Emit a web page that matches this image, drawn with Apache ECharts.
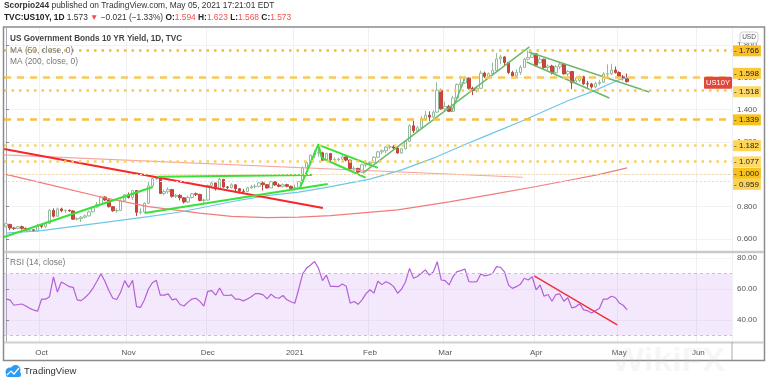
<!DOCTYPE html>
<html><head><meta charset="utf-8">
<script src="https://cdn.jsdelivr.net/npm/echarts@6/dist/echarts.min.js"></script>
<style>html,body{margin:0;padding:0;background:#fff}#c{width:768px;height:385px}</style>
</head><body><div id="c"></div><script>
// ---------- DATA ----------
const monthDays = {
 '2020-09': [18,21,22,23,24,25,28,29,30],
 '2020-10': [1,2,5,6,7,8,9,12,13,14,15,16,19,20,21,22,23,26,27,28,29,30],
 '2020-11': [2,3,4,5,6,9,10,11,12,13,16,17,18,19,20,23,24,25,27,30],
 '2020-12': [1,2,3,4,7,8,9,10,11,14,15,16,17,18,21,22,23,24,28,29,30,31],
 '2021-01': [4,5,6,7,8,11,12,13,14,15,19,20,21,22,25,26,27,28,29],
 '2021-02': [1,2,3,4,5,8,9,10,11,12,16,17,18,19,22,23,24,25,26],
 '2021-03': [1,2,3,4,5,8,9,10,11,12,15,16,17,18,19,22,23,24,25,26,29,30,31],
 '2021-04': [1,5,6,7,8,9,12,13,14,15,16,19,20,21,22,23,26,27,28,29,30],
 '2021-05': [3,4,5,6,7,10,11,12,13,14,17,18,19,20,21,24,25,26,27,28],
 '2021-06': [1,2,3,4,7,8,9,10,11]
};
const monthLabels = {'2020-10':'Oct','2020-11':'Nov','2020-12':'Dec','2021-01':'2021','2021-02':'Feb','2021-03':'Mar','2021-04':'Apr','2021-05':'May','2021-06':'Jun'};

// [open, close, low, high]
const ohlc = [
[0.680,0.694,0.672,0.700],[0.690,0.668,0.655,0.695],[0.668,0.666,0.656,0.675],[0.666,0.676,0.660,0.681],[0.676,0.666,0.658,0.683],
[0.665,0.655,0.650,0.672],[0.655,0.657,0.650,0.667],[0.657,0.648,0.644,0.662],[0.649,0.684,0.646,0.695],
[0.684,0.678,0.666,0.689],[0.678,0.696,0.668,0.706],[0.697,0.777,0.694,0.785],[0.777,0.741,0.733,0.790],[0.741,0.786,0.738,0.794],
[0.786,0.775,0.766,0.794],[0.775,0.778,0.762,0.783],[0.778,0.774,0.768,0.782],[0.774,0.723,0.718,0.778],[0.723,0.726,0.715,0.735],
[0.726,0.735,0.705,0.742],[0.735,0.743,0.728,0.752],[0.743,0.768,0.740,0.776],[0.768,0.798,0.765,0.801],[0.798,0.813,0.795,0.829],
[0.813,0.860,0.810,0.868],[0.860,0.842,0.835,0.865],[0.842,0.800,0.795,0.845],[0.800,0.775,0.768,0.803],[0.775,0.777,0.762,0.790],
[0.777,0.837,0.775,0.845],[0.837,0.874,0.832,0.878],
[0.874,0.857,0.850,0.888],[0.857,0.900,0.842,0.904],[0.900,0.765,0.743,0.900],[0.765,0.767,0.752,0.790],[0.767,0.821,0.760,0.827],
[0.821,0.929,0.818,0.960],[0.929,0.973,0.925,0.978],[0.973,0.976,0.965,0.979],[0.976,0.882,0.878,0.976],[0.882,0.893,0.870,0.906],
[0.893,0.906,0.880,0.920],[0.906,0.864,0.856,0.910],[0.864,0.870,0.855,0.880],[0.870,0.855,0.839,0.878],[0.855,0.829,0.820,0.858],
[0.829,0.857,0.822,0.869],[0.857,0.880,0.850,0.885],[0.880,0.876,0.866,0.888],[0.876,0.839,0.834,0.880],[0.839,0.841,0.824,0.850],
[0.841,0.931,0.838,0.936],[0.931,0.947,0.920,0.955],[0.947,0.911,0.900,0.948],[0.911,0.969,0.905,0.978],[0.969,0.922,0.915,0.972],
[0.922,0.918,0.910,0.928],[0.918,0.935,0.912,0.945],[0.935,0.911,0.893,0.938],[0.911,0.896,0.882,0.915],[0.896,0.894,0.880,0.910],
[0.894,0.917,0.889,0.923],[0.917,0.924,0.910,0.935],[0.924,0.926,0.912,0.939],[0.926,0.947,0.920,0.955],[0.947,0.936,0.900,0.956],
[0.936,0.916,0.912,0.940],[0.916,0.955,0.914,0.960],[0.955,0.934,0.930,0.957],[0.934,0.926,0.920,0.944],[0.926,0.936,0.918,0.944],
[0.936,0.926,0.920,0.942],[0.926,0.913,0.906,0.930],
[0.913,0.917,0.900,0.937],[0.917,0.955,0.915,0.960],[0.955,1.041,0.950,1.050],[1.041,1.072,1.035,1.080],[1.072,1.119,1.070,1.121],
[1.119,1.131,1.100,1.150],[1.131,1.134,1.110,1.187],[1.134,1.087,1.083,1.140],[1.087,1.129,1.085,1.135],[1.129,1.091,1.080,1.132],
[1.091,1.091,1.085,1.105],[1.091,1.094,1.082,1.103],[1.094,1.108,1.085,1.125],[1.108,1.088,1.080,1.110],[1.088,1.036,1.030,1.090],
[1.036,1.037,1.025,1.050],[1.037,1.014,1.005,1.040],[1.014,1.059,1.010,1.065],[1.059,1.066,1.045,1.090],
[1.066,1.074,1.050,1.080],[1.074,1.106,1.070,1.112],[1.106,1.139,1.100,1.145],[1.139,1.146,1.125,1.155],[1.146,1.169,1.130,1.175],
[1.169,1.170,1.155,1.183],[1.170,1.163,1.150,1.180],[1.163,1.132,1.128,1.168],[1.132,1.158,1.125,1.162],[1.158,1.204,1.155,1.210],
[1.204,1.300,1.200,1.310],[1.300,1.269,1.255,1.332],[1.269,1.288,1.260,1.300],[1.288,1.344,1.280,1.360],[1.344,1.366,1.335,1.392],
[1.366,1.354,1.330,1.390],[1.354,1.385,1.340,1.395],[1.385,1.520,1.380,1.570],[1.520,1.405,1.400,1.530],
[1.405,1.420,1.395,1.450],[1.420,1.390,1.385,1.430],[1.390,1.472,1.390,1.485],[1.472,1.555,1.458,1.562],[1.555,1.565,1.530,1.610],
[1.565,1.595,1.560,1.608],[1.595,1.532,1.525,1.600],[1.532,1.518,1.490,1.542],[1.518,1.532,1.505,1.545],[1.532,1.626,1.530,1.642],
[1.626,1.605,1.595,1.635],[1.605,1.622,1.590,1.630],[1.622,1.642,1.610,1.690],[1.642,1.714,1.640,1.750],[1.714,1.726,1.680,1.738],
[1.726,1.692,1.670,1.730],[1.692,1.630,1.620,1.695],[1.630,1.609,1.595,1.640],[1.609,1.630,1.600,1.650],[1.630,1.662,1.615,1.675],
[1.662,1.711,1.660,1.720],[1.711,1.723,1.705,1.766],[1.723,1.740,1.720,1.750],
[1.745,1.675,1.666,1.748],[1.690,1.712,1.685,1.728],[1.712,1.660,1.650,1.715],[1.660,1.670,1.642,1.680],[1.670,1.628,1.617,1.678],
[1.628,1.665,1.616,1.676],[1.665,1.681,1.650,1.695],[1.681,1.621,1.618,1.686],[1.621,1.636,1.608,1.643],[1.636,1.567,1.527,1.640],
[1.567,1.581,1.563,1.598],[1.581,1.604,1.570,1.611],[1.604,1.560,1.552,1.609],[1.560,1.559,1.535,1.578],[1.559,1.540,1.530,1.566],
[1.540,1.562,1.532,1.573],[1.562,1.570,1.550,1.585],[1.570,1.620,1.565,1.631],[1.620,1.622,1.600,1.680],[1.622,1.645,1.615,1.684],
[1.645,1.630,1.623,1.667],
[1.630,1.603,1.594,1.637],[1.603,1.594,1.581,1.615],[1.594,1.573,1.568,1.623]
];

const rsi = [
53.5,53,49.5,50,50.3,49,47.5,46.4,45.7,53.4,
53.4,55,67.8,58,64.5,63,61.5,61,53,52.5,
54.5,57,60.6,65,69.8,65,59,54,53.2,58,
65.4,61,65.6,48.6,48.1,53,60,64,65.6,56,
56,56.8,53,53.6,50,49,51.5,53.5,54,52,
49,58.4,58.9,56,60.6,56,55.8,56.2,53.4,53.4,
52.3,53.5,55,57,57,56.2,53.6,56.7,54.5,54,
55.8,53,51.8,50.8,60,69.8,73.5,75.5,77.7,73.3,
65.4,68.9,61.7,61.7,61.5,63.2,61.7,50.8,51.9,50.1,
53,57,59.5,57.3,65,62.8,64.7,63.5,61.5,57.2,
60,64.7,73.3,66.9,68,70.1,72.3,69,71,77.6,
65.8,65.4,62.6,68,71.2,71.8,72.9,64.7,64.5,64.7,
69.7,68.5,69,70.1,74.4,74,71,62.6,60.4,61.5,
63,66.9,65.8,67.9,59.4,62.6,55.3,56.4,52.1,56.4,
56.8,52.1,54.3,47.8,48.5,50.5,46.5,46,44.5,46,
47.5,53.5,53.5,55.3,54.5,51,49.5,46.5
];

// moving averages read at sample bars: [bar index, value]
const ma50 = [[0,0.637],[9,0.652],[24,0.70],[36,0.738],[44,0.767],[58,0.835],[66,0.868],[74,0.89],[80,0.915],[92,0.97],[100,1.028],[108,1.10],[116,1.185],[121,1.235],[125,1.275],[130,1.325],[136,1.39],[142,1.455],[148,1.51],[155,1.585],[157,1.598]];
const ma200 = [[0,1.00],[12,0.93],[24,0.86],[36,0.80],[49,0.76],[57,0.74],[66,0.733],[74,0.735],[82,0.745],[99,0.78],[112,0.83],[125,0.885],[134,0.925],[142,0.962],[150,1.0],[157,1.04]];

// drawn trend lines: [[bar, price],[bar, price]]
const redTrend = [[-0.5,1.157],[80.1,0.792]];
const pinkTrend = [[-0.5,1.12],[130.6,0.982]];
const greenTrends = [
 [[-0.5,0.613],[37.1,0.922]],
 [[38.4,0.985],[77.3,0.996]],
 [[35.1,0.761],[81.3,0.94]],
 [[74.3,0.916],[79.0,1.188]],
 [[79.0,1.182],[94.0,1.04]],
 [[79.8,1.101],[90.9,0.98]],
 [[79.0,1.182],[79.8,1.101]]
];
const darkGreenTrends = [
 [[90.2,1.008],[132.3,1.788]],
 [[112.6,1.386],[115.9,1.59]],
 [[132.1,1.757],[162.6,1.509]],
 [[131.6,1.695],[152.5,1.472]]
];
const rsiTrend = [[133.5,68.4],[154.5,36.8]];

const levels = [1.766, 1.598, 1.518, 1.339, 1.182, 1.077, 1.000, 0.959];
const priceTicks = [0.6, 0.8, 1.0, 1.2, 1.4, 1.6, 1.8];
const rsiTicks = [40, 60, 80];
const rsiBand = [30, 70];

// ---------- BUILD ----------
const categories = [];
const monthStart = {};
Object.keys(monthDays).forEach(k => {
  monthDays[k].forEach((d, i) => {
    const s = k + '-' + String(d).padStart(2, '0');
    if (i === 0 && monthLabels[k]) monthStart[s] = monthLabels[k];
    categories.push(s);
  });
});
const N = categories.length;
const isStart = (idx) => monthStart[categories[idx]] !== undefined;

const levelStyle = {
  1.766: {type:[2.5,5], color:'#f5bd3a', width:2.5, bg:'#fbbf24', dy:1},
  1.598: {type:[7,6], color:'#f7c95a', width:2.5, bg:'#fcc93a', dy:-4},
  1.518: {type:[2.5,5], color:'#f7c950', width:2.5, bg:'#fdd866', dy:1.5},
  1.339: {type:[7,6], color:'#f5c242', width:2.5, bg:'#f6c21c', dy:0.5},
  1.182: {type:[2.5,5], color:'#f9d36a', width:2.5, bg:'#ffd556', dy:0.5},
  1.077: {type:[2.5,5], color:'#f8cf60', width:2.5, bg:'#ffd969', dy:0.5},
  1.000: {type:[2,2], color:'#f8dba5', width:1, bg:'#f7c21e', dy:-1},
  0.959: {type:[2,2], color:'#f8dba5', width:1, bg:'#ffd351', dy:3.5}
};

const lineSeries = (pts, color, width, xi, yi) => ({
  type:'line', xAxisIndex: xi, yAxisIndex: yi, data: pts, symbol:'none', silent:true,
  lineStyle:{color, width}, z: 4, animation:false
});

const chart = echarts.init(document.getElementById('c'), null, {renderer:'canvas'});
const FONT = 'Liberation Sans';

const option = {
  animation:false,
  backgroundColor:'#ffffff',
  textStyle:{fontFamily:FONT},
  grid:[
    {left:4, right:36, top:28, height:223},
    {left:4, right:36, top:253, height:89}
  ],
  xAxis:[
    {type:'category', gridIndex:0, data:categories, boundaryGap:true,
     axisLine:{show:false}, axisTick:{show:false}, axisLabel:{show:false},
     splitLine:{show:true, interval:(i)=>isStart(i), lineStyle:{color:'#eef0f4', width:1}}},
    {type:'value', gridIndex:0, min:-0.5, max:N-0.5, show:false},
    {type:'category', gridIndex:1, data:categories, boundaryGap:true,
     axisLine:{show:false}, axisTick:{show:false},
     axisLabel:{interval:(i)=>isStart(i), formatter:(v)=>monthStart[v]||'', color:'#555', fontSize:8, margin:7, fontFamily:FONT},
     splitLine:{show:true, interval:(i)=>isStart(i), lineStyle:{color:'#eef0f4', width:1}}},
    {type:'value', gridIndex:1, min:-0.5, max:N-0.5, show:false}
  ],
  yAxis:[
    {type:'value', gridIndex:0, position:'right', min:0.526, max:1.905,
     axisLine:{show:true, lineStyle:{color:'#a8abb3'}},
     axisTick:{show:true, customValues:priceTicks, length:3, lineStyle:{color:'#888'}},
     axisLabel:{customValues:priceTicks, formatter:(v)=>v.toFixed(3), color:'#555', fontSize:8, margin:5, fontFamily:FONT},
     splitLine:{show:true, lineStyle:{color:'#f0f2f5'}}},
    {type:'value', gridIndex:1, position:'right', min:25.8, max:83.2,
     axisLine:{show:true, lineStyle:{color:'#a8abb3'}},
     axisTick:{show:true, customValues:rsiTicks, length:3, lineStyle:{color:'#888'}},
     axisLabel:{customValues:rsiTicks, formatter:(v)=>v.toFixed(2), color:'#555', fontSize:8, margin:5, fontFamily:FONT},
     splitLine:{show:true, lineStyle:{color:'#f3f4f7'}}}
  ],
  series:[
    {type:'candlestick', xAxisIndex:0, yAxisIndex:0, data:ohlc, barWidth:3,
     itemStyle:{color:'#ffffff', color0:'#c8463c', borderColor:'#94b99c', borderColor0:'#c0463c', borderWidth:1},
     z:3,
     markLine:{silent:true, symbol:'none', animation:false,
       data: levels.map(v => ({yAxis:v,
         lineStyle:{type:levelStyle[v].type, color:levelStyle[v].color, width:levelStyle[v].width, cap:'butt'},
         label:{show:true, position:'end', distance:1, offset:[0, levelStyle[v].dy], formatter:()=>'- ' + v.toFixed(3),
                backgroundColor:levelStyle[v].bg, color:'#222', fontSize:8, padding:[2,2,1,1], fontFamily:FONT}}))
     }},
    lineSeries(ma200, '#f27c7c', 1.2, 1, 0),
    lineSeries(ma50, '#6cc7ea', 1.2, 1, 0),
    lineSeries(pinkTrend, '#f5a5a5', 1.2, 1, 0),
    lineSeries(redTrend, '#f7262b', 2, 1, 0),
    ...greenTrends.map(p => lineSeries(p, '#3ae03a', 2, 1, 0)),
    ...darkGreenTrends.map(p => lineSeries(p, '#6ab96a', 1.5, 1, 0)),
    {type:'line', xAxisIndex:2, yAxisIndex:1, data:rsi, symbol:'none', silent:true,
     lineStyle:{color:'#b45fd8', width:1.2}, z:3,
     markArea:{silent:true, itemStyle:{color:'rgba(190,125,235,0.17)'}, data:[[{yAxis:rsiBand[0]},{yAxis:rsiBand[1]}]]},
     markLine:{silent:true, symbol:'none', label:{show:false}, lineStyle:{type:[3,3], color:'#c4c4c4', width:1},
       data:[{yAxis:rsiBand[0]},{yAxis:rsiBand[1]}]}},
    lineSeries(rsiTrend, '#f0303a', 1.5, 3, 1)
  ]
};
chart.setOption(option);

// decorations
const lastClose = ohlc[ohlc.length-1][1];
const yLast = chart.convertToPixel({yAxisIndex:0}, lastClose);
const HF = 8.4;
chart.setOption({graphic:[
  {type:'text', left:4, top:2, style:{text:'{b|Scorpio244} published on TradingView.com, May 05, 2021 17:21:01 EDT',
    rich:{b:{fontWeight:'bold', fill:'#333', fontSize:HF, fontFamily:FONT}}, fill:'#333', fontSize:HF, fontFamily:FONT}},
  {type:'text', left:4, top:14, style:{text:'{b|TVC:US10Y, 1D} 1.573 {r|▼} −0.021 (−1.33%) {b|O:}{r|1.594} {b|H:}{r|1.623} {b|L:}{r|1.568} {b|C:}{r|1.573}',
    rich:{b:{fontWeight:'bold', fill:'#222', fontSize:HF, fontFamily:FONT}, r:{fill:'#ef5350', fontSize:HF, fontFamily:FONT}},
    fill:'#333', fontSize:HF, fontFamily:FONT}},
  {type:'rect', shape:{x:3.5, y:27, width:761, height:333.5}, style:{fill:null, stroke:'#8c8c8c', lineWidth:1.5}, silent:true, z:10},
  {type:'line', shape:{x1:4, y1:252, x2:764, y2:252}, style:{stroke:'#c9c9c9', lineWidth:2.5}, silent:true, z:10},
  {type:'line', shape:{x1:4, y1:342.5, x2:764, y2:342.5}, style:{stroke:'#cfcfcf', lineWidth:2}, silent:true, z:10},
  {type:'line', shape:{x1:732, y1:342, x2:732, y2:360}, style:{stroke:'#a8abb3', lineWidth:1}, silent:true, z:10},
  {type:'text', left:10, top:35, style:{text:'US Government Bonds 10 YR Yield, 1D, TVC', fill:'#444', fontSize:8.2, fontWeight:'bold', fontFamily:FONT}, z:10},
  {type:'text', left:10, top:47, style:{text:'MA (50, close, 0)', fill:'#777', fontSize:8.4, fontFamily:FONT}, z:10},
  {type:'text', left:10, top:58, style:{text:'MA (200, close, 0)', fill:'#777', fontSize:8.4, fontFamily:FONT}, z:10},
  {type:'text', left:10, top:259, style:{text:'RSI (14, close)', fill:'#777', fontSize:8.4, fontFamily:FONT}, z:10},
  {type:'rect', shape:{x:740, y:32, width:18, height:11, r:3}, style:{fill:'#fff', stroke:'#d0d0d0', lineWidth:1}, z:10},
  {type:'text', x:749, y:37.5, style:{text:'USD', fill:'#555', fontSize:6.5, align:'center', verticalAlign:'middle', fontFamily:FONT}, z:11},
  {type:'rect', shape:{x:704, y:yLast-5, width:28, height:12, r:1}, style:{fill:'#e0483d'}, z:10},
  {type:'text', x:718, y:yLast+1, style:{text:'US10Y', fill:'#fff', fontSize:7.5, align:'center', verticalAlign:'middle', fontFamily:FONT}, z:11},
  {type:'text', x:612, y:362, style:{text:'WikiFX', fill:'rgba(200,200,200,0.16)', fontSize:34, fontWeight:'bold', align:'left', verticalAlign:'middle', fontFamily:FONT}, z:12, silent:true},
  {type:'circle', shape:{cx:10, cy:372, r:4.5}, style:{fill:'#2e9bf0'}, z:10},
  {type:'circle', shape:{cx:15.5, cy:370, r:5}, style:{fill:'#2e9bf0'}, z:10},
  {type:'rect', shape:{x:6, y:372, width:15, height:5, r:2}, style:{fill:'#2e9bf0'}, z:10},
  {type:'polyline', shape:{points:[[7,375],[11,371],[14,374],[19,368]]}, style:{stroke:'#fff', lineWidth:1.2, fill:null}, z:11},
  {type:'text', left:24, top:366, style:{text:'TradingView', fill:'#333', fontSize:9.5, fontFamily:FONT}, z:10}
]});
</script></body></html>
